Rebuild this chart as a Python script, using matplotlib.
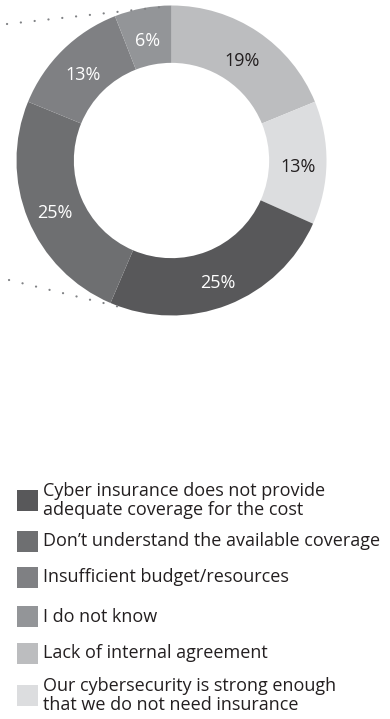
import matplotlib
matplotlib.use("Agg")
import matplotlib.pyplot as plt
from matplotlib.patches import Rectangle

# ---- data ----
categories = [
    "Cyber insurance does not provide\nadequate coverage for the cost",
    "Don\u2019t understand the available coverage",
    "Insufficient budget/resources",
    "I do not know",
    "Lack of internal agreement",
    "Our cybersecurity is strong enough\nthat we do not need insurance",
]
values = [25, 25, 13, 6, 19, 13]
colors = ["#58585a", "#6e6f71", "#7f8083", "#939598", "#bcbdbf", "#dcdddf"]
label_colors = ["white", "white", "white", "white", "#231f20", "#231f20"]
# order of wedges clockwise from 12 o'clock
pie_order = [4, 5, 0, 1, 2, 3]

FONT = "Open Sans"
W, H = 390, 719
fig = plt.figure(figsize=(W / 100, H / 100), dpi=100)
ax = fig.add_axes([0, 0, 1, 1])
ax.set_xlim(0, W)
ax.set_ylim(0, H)
ax.axis("off")

cx, cy = 171.5, H - 160.5
R = 155
ring = 0.37

pv = [values[i] for i in pie_order]
pc = [colors[i] for i in pie_order]
wedges, texts, autotexts = ax.pie(
    pv, colors=pc, startangle=90, counterclock=False, center=(cx, cy), radius=R,
    autopct="%.0f%%", pctdistance=1 - ring / 2,
    wedgeprops=dict(width=R * ring, edgecolor="none", linewidth=0),
    textprops=dict(fontsize=13, family=FONT),
)
for t, i in zip(autotexts, pie_order):
    t.set_color(label_colors[i])
    x, y = t.get_position()
    t.set_position((x, y - 5))
ax.set_xlim(0, W)
ax.set_ylim(0, H)
ax.set_aspect("auto")

# dotted leader lines
dot_kw = dict(color="#808285", linewidth=1.6, linestyle=(0, (0.05, 6.2)),
              dash_capstyle="round", solid_capstyle="round")
ax.plot([7, 171], [H - 24, H - 6], **dot_kw)
ax.plot([9, 124], [H - 280, H - 308], **dot_kw)

# legend
sq_top = [490, 531, 567, 606, 643, 685]
for i, (lab, col) in enumerate(zip(categories, colors)):
    y0 = H - sq_top[i] - 21
    ax.add_patch(Rectangle((17, y0), 21, 21, facecolor=col, edgecolor="none"))
    ax.text(43, y0 + 10.5, lab, fontsize=13, family=FONT, color="#231f20",
            va="center", ha="left", linespacing=1.1)

fig.savefig("out.png", dpi=100)
